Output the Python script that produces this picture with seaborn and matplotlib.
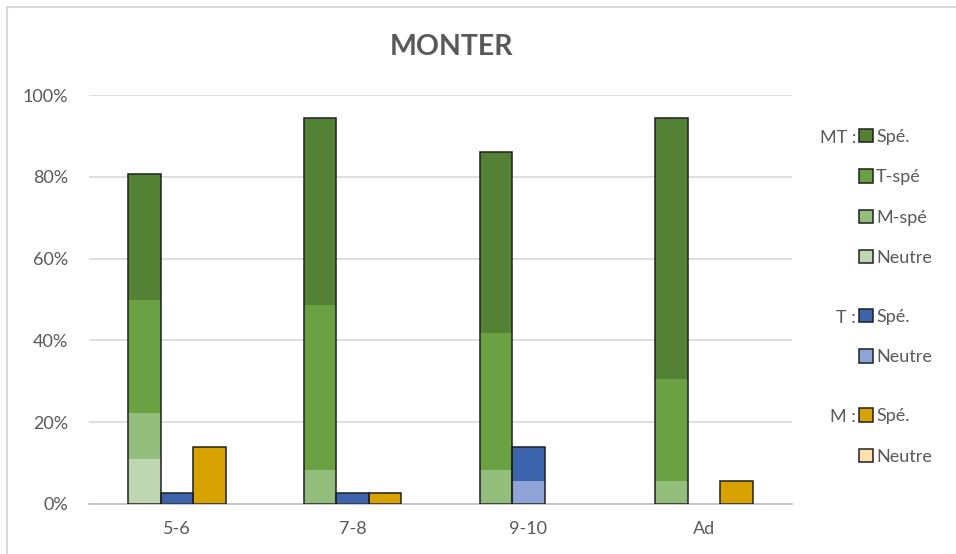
import matplotlib
matplotlib.use("Agg")
import matplotlib.pyplot as plt
from matplotlib.patches import Patch
from matplotlib.lines import Line2D
from matplotlib.ticker import FuncFormatter
import pandas as pd
import seaborn as sns

# ---- data (percent of answers) ----
categories = ["5-6", "7-8", "9-10", "Ad"]
groups = ["MT", "T", "M"]

mt_neutre = [11.1, 0.0, 0.0, 0.0]
mt_m_spe = [11.1, 8.3, 8.3, 5.6]
mt_t_spe = [27.8, 40.3, 33.4, 25.0]
mt_spe = [30.6, 45.8, 44.4, 63.8]

t_neutre = [0.0, 0.0, 5.6, 0.0]
t_spe = [2.8, 2.8, 8.3, 0.0]

m_neutre = [0.0, 0.0, 0.0, 0.0]
m_spe = [13.9, 2.8, 0.0, 5.6]

y_ticks = [0, 20, 40, 60, 80, 100]

# ---- colours ----
C_MT_SPE = "#548235"
C_MT_TSPE = "#6AA142"
C_MT_MSPE = "#93BE7B"
C_MT_NEUTRE = "#BFD6B3"
C_T_SPE = "#3B64AD"
C_T_NEUTRE = "#8FA4D6"
C_M_SPE = "#D8A200"
C_M_NEUTRE = "#FFDFAE"
TEXT = "#595959"
GRID = "#D9D9D9"
EDGE = "#1F1F1F"

sns.set_theme(style="white")
plt.rcParams["font.family"] = ["Lato", "DejaVu Sans"]

fig = plt.figure(figsize=(9.56, 5.54), dpi=100)
ax = fig.add_axes([89 / 956, 1 - 504 / 554, (792 - 89) / 956, (504 - 95) / 554])


def cumulate(*parts):
    return [sum(v) for v in zip(*parts)]


# Stacked bars drawn as overlapping cumulative layers, tallest first.
layers = [
    ({"MT": cumulate(mt_neutre, mt_m_spe, mt_t_spe, mt_spe),
      "T": cumulate(t_neutre, t_spe),
      "M": cumulate(m_neutre, m_spe)},
     {"MT": C_MT_SPE, "T": C_T_SPE, "M": C_M_SPE}),
    ({"MT": cumulate(mt_neutre, mt_m_spe, mt_t_spe),
      "T": t_neutre,
      "M": m_neutre},
     {"MT": C_MT_TSPE, "T": C_T_NEUTRE, "M": C_M_NEUTRE}),
    ({"MT": cumulate(mt_neutre, mt_m_spe),
      "T": [0.0] * len(categories),
      "M": [0.0] * len(categories)},
     {"MT": C_MT_MSPE, "T": C_T_NEUTRE, "M": C_M_NEUTRE}),
    ({"MT": mt_neutre,
      "T": [0.0] * len(categories),
      "M": [0.0] * len(categories)},
     {"MT": C_MT_NEUTRE, "T": C_T_NEUTRE, "M": C_M_NEUTRE}),
]


def layer_frame(values):
    rows = []
    for g in groups:
        for c, v in zip(categories, values[g]):
            rows.append({"cat": c, "grp": g, "val": v})
    return pd.DataFrame(rows)


BAR_WIDTH = 0.555
for values, pal in layers:
    sns.barplot(data=layer_frame(values), x="cat", y="val", hue="grp",
                order=categories, hue_order=groups, palette=pal,
                width=BAR_WIDTH, errorbar=None, saturation=1,
                linewidth=0, legend=False, ax=ax, zorder=2)

# Outline around each full stack
n_before = len(ax.patches)
sns.barplot(data=layer_frame(layers[0][0]), x="cat", y="val", hue="grp",
            order=categories, hue_order=groups, palette=layers[0][1],
            width=BAR_WIDTH, errorbar=None, saturation=1, fill=False,
            legend=False, ax=ax, zorder=3)
for p in ax.patches[n_before:]:
    p.set_facecolor("none")
    p.set_edgecolor(EDGE)
    p.set_linewidth(1.1)
    if p.get_height() == 0:
        p.set_visible(False)

# ---- axes styling ----
ax.set_ylim(0, 100)
ax.set_xlim(-0.5, len(categories) - 0.5)
ax.set_yticks(y_ticks)
ax.yaxis.set_major_formatter(FuncFormatter(lambda v, _: f"{v:.0f}%"))
ax.set_xlabel("")
ax.set_ylabel("")
ax.grid(axis="y", color=GRID, linewidth=1.2)
ax.grid(axis="x", visible=False)
ax.set_axisbelow(True)
for s in ["left", "right", "top"]:
    ax.spines[s].set_visible(False)
ax.spines["bottom"].set_color("#BFBFBF")
ax.spines["bottom"].set_linewidth(1.2)
ax.tick_params(axis="y", length=0, pad=15, labelsize=13, labelcolor=TEXT)
ax.tick_params(axis="x", length=0, pad=12, labelsize=13, labelcolor=TEXT)

fig.text(451 / 956, 1 - 47 / 554, "MONTER", ha="center", va="center",
         fontsize=20.5, fontweight="bold", color=TEXT)

# ---- legend: one block per bar group ----
legend_groups = [
    ("MT :", [("Spé.", C_MT_SPE), ("T-spé", C_MT_TSPE),
              ("M-spé", C_MT_MSPE), ("Neutre", C_MT_NEUTRE)], 138, 257),
    ("T :", [("Spé.", C_T_SPE), ("Neutre", C_T_NEUTRE)], 318, 356),
    ("M :", [("Spé.", C_M_SPE), ("Neutre", C_M_NEUTRE)], 417, 456),
]
for title, entries, y_first, y_last in legend_groups:
    handles = [Patch(facecolor=c, edgecolor=EDGE, linewidth=1.1) for _, c in entries]
    labels = [t for t, _ in entries]
    y_mid = 1 - ((y_first + y_last) / 2) / 554
    fig.legend(handles, labels, loc="center left",
               bbox_to_anchor=(859 / 956, y_mid), frameon=False,
               borderpad=0, borderaxespad=0, handlelength=0.75,
               handleheight=0.75, handletextpad=0.2, labelspacing=1.35,
               prop={"size": 13}, labelcolor=TEXT)
    fig.text(856 / 956, 1 - y_first / 554, title, ha="right", va="center",
             fontsize=13, color=TEXT)

# chart frame (top and left edges visible)
fig.add_artist(Line2D([7 / 956, 1], [1 - 7 / 554, 1 - 7 / 554],
                      color=GRID, linewidth=1.5, transform=fig.transFigure))
fig.add_artist(Line2D([7 / 956, 7 / 956], [0, 1 - 7 / 554],
                      color=GRID, linewidth=1.5, transform=fig.transFigure))

fig.savefig("out.png", dpi=100)
